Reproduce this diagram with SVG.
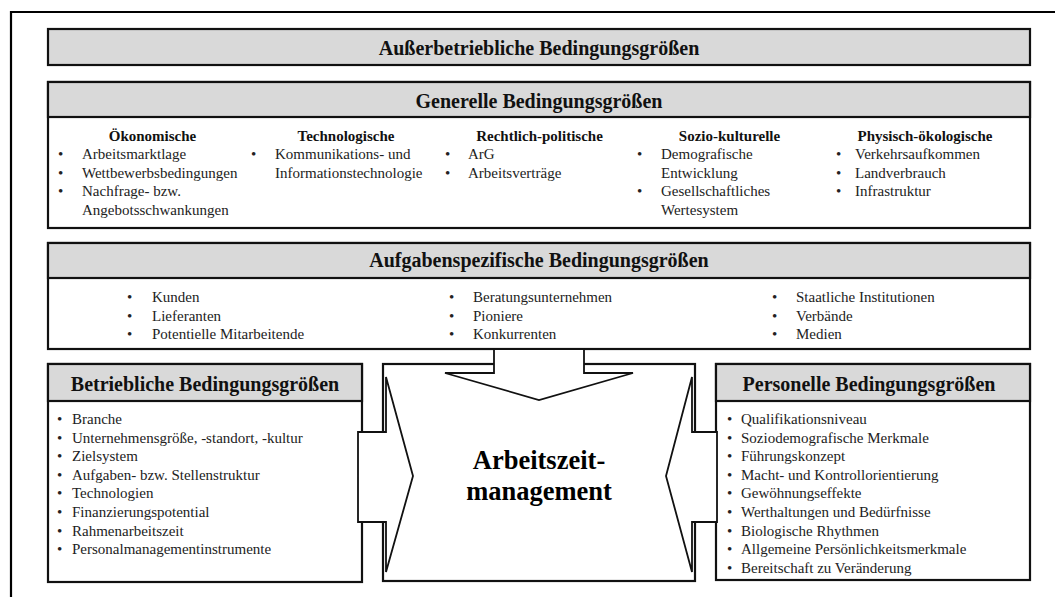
<svg xmlns="http://www.w3.org/2000/svg" width="1055" height="597" viewBox="0 0 1055 597">
  <style>
    .frame { fill: none; stroke: #000; stroke-width: 2.2; }
    .box { fill: #fff; stroke: #111; stroke-width: 2.2; }
    .hdr { fill: #d9d9d9; stroke: #111; stroke-width: 2.2; }
    .h { font-family: "Liberation Serif", "Times New Roman", serif; font-weight: bold; font-size: 20px; fill: #111; text-anchor: middle; }
    .cat { font-family: "Liberation Serif", "Times New Roman", serif; font-weight: bold; font-size: 15px; fill: #111; text-anchor: middle; }
    .t { font-family: "Liberation Serif", "Times New Roman", serif; font-size: 15px; fill: #222; }
    .center { font-family: "Liberation Serif", "Times New Roman", serif; font-weight: bold; font-size: 26.5px; fill: #000; text-anchor: middle; }
    .arrow { fill: #fff; stroke: #111; stroke-width: 1.8; stroke-linejoin: miter; }
  </style>

  <!-- outer frame (open to the right and bottom) -->
  <path class="frame" d="M11,597 V12 H1055"/>

  <!-- top banner -->
  <g id="ausserbetrieblich">
    <rect class="hdr" x="48" y="29" width="982" height="36"/>
    <text class="h" x="539" y="55">Außerbetriebliche Bedingungsgrößen</text>
  </g>

  <!-- general conditions -->
  <g id="generell">
    <rect class="box" x="48" y="82" width="982" height="146"/>
    <rect class="hdr" x="48" y="82" width="982" height="35"/>
    <text class="h" x="539" y="108">Generelle Bedingungsgrößen</text>

    <text class="cat" x="152.5" y="140.5">Ökonomische</text>
    <text class="t" x="58" y="159">•</text><text class="t" x="82" y="159">Arbeitsmarktlage</text>
    <text class="t" x="58" y="177.5">•</text><text class="t" x="82" y="177.5">Wettbewerbsbedingungen</text>
    <text class="t" x="58" y="196">•</text><text class="t" x="82" y="196">Nachfrage-  bzw.</text>
    <text class="t" x="82" y="214.5">Angebotsschwankungen</text>

    <text class="cat" x="346" y="140.5">Technologische</text>
    <text class="t" x="251" y="159">•</text><text class="t" x="275" y="159">Kommunikations-  und</text>
    <text class="t" x="275" y="177.5">Informationstechnologie</text>

    <text class="cat" x="539.5" y="140.5">Rechtlich-politische</text>
    <text class="t" x="445" y="159">•</text><text class="t" x="468" y="159">ArG</text>
    <text class="t" x="445" y="177.5">•</text><text class="t" x="468" y="177.5">Arbeitsverträge</text>

    <text class="cat" x="729.5" y="140.5">Sozio-kulturelle</text>
    <text class="t" x="637" y="159">•</text><text class="t" x="661" y="159">Demografische</text>
    <text class="t" x="661" y="177.5">Entwicklung</text>
    <text class="t" x="637" y="196">•</text><text class="t" x="661" y="196">Gesellschaftliches</text>
    <text class="t" x="661" y="214.5">Wertesystem</text>

    <text class="cat" x="925" y="140.5">Physisch-ökologische</text>
    <text class="t" x="836" y="159">•</text><text class="t" x="855" y="159">Verkehrsaufkommen</text>
    <text class="t" x="836" y="177.5">•</text><text class="t" x="855" y="177.5">Landverbrauch</text>
    <text class="t" x="836" y="196">•</text><text class="t" x="855" y="196">Infrastruktur</text>
  </g>

  <!-- task-specific conditions -->
  <g id="aufgabenspezifisch">
    <rect class="box" x="48" y="243" width="982" height="106"/>
    <rect class="hdr" x="48" y="243" width="982" height="35"/>
    <text class="h" x="539" y="267">Aufgabenspezifische Bedingungsgrößen</text>

    <text class="t" x="127" y="302">•</text><text class="t" x="152" y="302">Kunden</text>
    <text class="t" x="127" y="320.5">•</text><text class="t" x="152" y="320.5">Lieferanten</text>
    <text class="t" x="127" y="339">•</text><text class="t" x="152" y="339">Potentielle Mitarbeitende</text>

    <text class="t" x="449" y="302">•</text><text class="t" x="473" y="302">Beratungsunternehmen</text>
    <text class="t" x="449" y="320.5">•</text><text class="t" x="473" y="320.5">Pioniere</text>
    <text class="t" x="449" y="339">•</text><text class="t" x="473" y="339">Konkurrenten</text>

    <text class="t" x="772" y="302">•</text><text class="t" x="796" y="302">Staatliche  Institutionen</text>
    <text class="t" x="772" y="320.5">•</text><text class="t" x="796" y="320.5">Verbände</text>
    <text class="t" x="772" y="339">•</text><text class="t" x="796" y="339">Medien</text>
  </g>

  <!-- operational conditions -->
  <g id="betrieblich">
    <rect class="box" x="48" y="364" width="314" height="218"/>
    <rect class="hdr" x="48" y="364" width="314" height="37"/>
    <text class="h" x="205" y="391">Betriebliche Bedingungsgrößen</text>
    <text class="t" x="57" y="424">•</text><text class="t" x="72" y="424">Branche</text>
    <text class="t" x="57" y="442.6">•</text><text class="t" x="72" y="442.6">Unternehmensgröße,  -standort,  -kultur</text>
    <text class="t" x="57" y="461.2">•</text><text class="t" x="72" y="461.2">Zielsystem</text>
    <text class="t" x="57" y="479.8">•</text><text class="t" x="72" y="479.8">Aufgaben-  bzw.  Stellenstruktur</text>
    <text class="t" x="57" y="498.4">•</text><text class="t" x="72" y="498.4">Technologien</text>
    <text class="t" x="57" y="517">•</text><text class="t" x="72" y="517">Finanzierungspotential</text>
    <text class="t" x="57" y="535.6">•</text><text class="t" x="72" y="535.6">Rahmenarbeitszeit</text>
    <text class="t" x="57" y="554.2">•</text><text class="t" x="72" y="554.2">Personalmanagementinstrumente</text>
  </g>

  <!-- personnel conditions -->
  <g id="personell">
    <rect class="box" x="716" y="364" width="314" height="216"/>
    <rect class="hdr" x="716" y="364" width="314" height="37"/>
    <text class="h" x="869" y="391">Personelle Bedingungsgrößen</text>
    <text class="t" x="727" y="424">•</text><text class="t" x="741" y="424">Qualifikationsniveau</text>
    <text class="t" x="727" y="442.6">•</text><text class="t" x="741" y="442.6">Soziodemografische  Merkmale</text>
    <text class="t" x="727" y="461.2">•</text><text class="t" x="741" y="461.2">Führungskonzept</text>
    <text class="t" x="727" y="479.8">•</text><text class="t" x="741" y="479.8">Macht-  und  Kontrollorientierung</text>
    <text class="t" x="727" y="498.4">•</text><text class="t" x="741" y="498.4">Gewöhnungseffekte</text>
    <text class="t" x="727" y="517">•</text><text class="t" x="741" y="517">Werthaltungen  und  Bedürfnisse</text>
    <text class="t" x="727" y="535.6">•</text><text class="t" x="741" y="535.6">Biologische  Rhythmen</text>
    <text class="t" x="727" y="554.2">•</text><text class="t" x="741" y="554.2">Allgemeine  Persönlichkeitsmerkmale</text>
    <text class="t" x="727" y="572.8">•</text><text class="t" x="741" y="572.8">Bereitschaft  zu  Veränderung</text>
  </g>

  <!-- central node -->
  <g id="arbeitszeitmanagement">
    <rect class="box" x="383" y="364" width="312" height="217" stroke-width="2"/>
  </g>

  <!-- block arrows pointing into the central node -->
  <g id="connectors">
    <polygon class="arrow" points="494,349 584,349 584,373 633,373 539,400 445,373 494,373"/>
    <polygon class="arrow" points="358,432 386,432 386,377 413,476 386,572 386,522 358,522"/>
    <polygon class="arrow" points="717,432 692,432 692,377 666,476 692,572 692,522 717,522"/>
  </g>

  <g id="arbeitszeitmanagement-label">
    <text class="center" x="539" y="469">Arbeitszeit-</text>
    <text class="center" x="539" y="500">management</text>
  </g>
</svg>
